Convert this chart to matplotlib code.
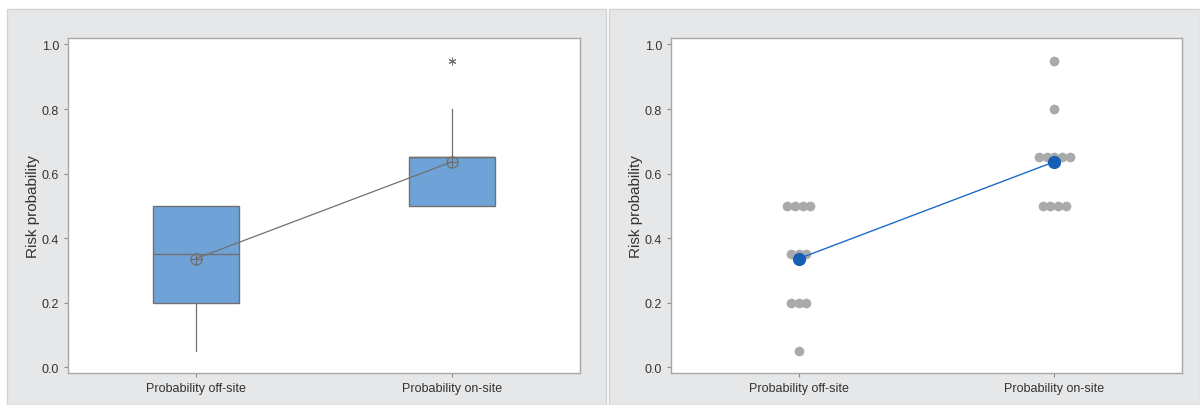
import matplotlib.pyplot as plt
import matplotlib.patches as mpatches
import numpy as np

# risk probabilities by group
categories = ["Probability off-site", "Probability on-site"]
off_site = [0.5, 0.5, 0.5, 0.5, 0.35, 0.35, 0.35, 0.2, 0.2, 0.2, 0.05]
on_site = [0.95, 0.8, 0.65, 0.65, 0.65, 0.65, 0.65, 0.5, 0.5, 0.5, 0.5]
y_ticks = [0.0, 0.2, 0.4, 0.6, 0.8, 1.0]

groups = [off_site, on_site]
means = [np.mean(g) for g in groups]

plt.rcParams['font.family'] = ['Liberation Sans', 'DejaVu Sans']

fig = plt.figure(figsize=(12, 4.06), dpi=100)

# gray panel backgrounds
panel_col = '#e6e7e9'
fig.add_artist(mpatches.Rectangle((7/1200, 0), 599/1200, 396/406, transform=fig.transFigure,
                                  facecolor=panel_col, edgecolor='#d2d3d5', lw=1, zorder=-5))
fig.add_artist(mpatches.Rectangle((609/1200, 0), 591/1200, 396/406, transform=fig.transFigure,
                                  facecolor=panel_col, edgecolor='#d2d3d5', lw=1, zorder=-5))

ax1 = fig.add_axes([68/1200, 32/406, 512/1200, 335/406])
ax2 = fig.add_axes([671/1200, 32/406, 511/1200, 335/406])

edge = '#707070'
text_col = '#333333'

def style(ax):
    ax.set_xlim(0.5, 2.5)
    ax.set_ylim(-0.018, 1.02)
    ax.set_yticks(y_ticks)
    ax.set_yticklabels([f"{t:.1f}" for t in y_ticks])
    ax.set_xticks([1, 2])
    ax.set_xticklabels(categories)
    ax.tick_params(colors='#8a8a8a', labelcolor=text_col, labelsize=9, length=3, width=0.8)
    for s in ax.spines.values():
        s.set_color('#a8a8a8')
        s.set_linewidth(1.0)
    ax.set_ylabel('Risk probability', fontsize=11, color=text_col, labelpad=1)
    ax.set_facecolor('white')

# box plot
bp = ax1.boxplot(groups, positions=[1, 2], widths=0.335, patch_artist=True,
                 whis=1.5, showcaps=False,
                 boxprops=dict(facecolor='#6fa3d7', edgecolor=edge, linewidth=1.0),
                 medianprops=dict(color=edge, linewidth=1.0),
                 whiskerprops=dict(color=edge, linewidth=0.9),
                 flierprops=dict(marker=(6, 2, 0), markersize=5.5, markeredgecolor=edge,
                                 markeredgewidth=0.7, linestyle='none'))
ax1.plot([1, 2], means, color=edge, lw=0.9, zorder=3)
ax1.plot([1, 2], means, 'o', ms=8, mfc='none', mec=edge, mew=0.9, zorder=4)
ax1.plot([1, 2], means, '+', ms=8, mec=edge, mew=0.9, zorder=4)
style(ax1)

# individual value plot
step = 0.03
for pos, g in zip([1, 2], groups):
    vals, counts = np.unique(g, return_counts=True)
    for v, c in zip(vals, counts):
        xs = pos + (np.arange(c) - (c - 1) / 2) * step
        ax2.plot(xs, [v] * c, 'o', ms=7, color='#a9aaac', mec='none', zorder=2)
ax2.plot([1, 2], means, color='#1e6ac8', lw=1.0, zorder=3)
ax2.plot([1, 2], means, 'o', ms=9.5, color='#155fb5', mec='none', zorder=4)
style(ax2)

plt.savefig('out.png', dpi=100)
